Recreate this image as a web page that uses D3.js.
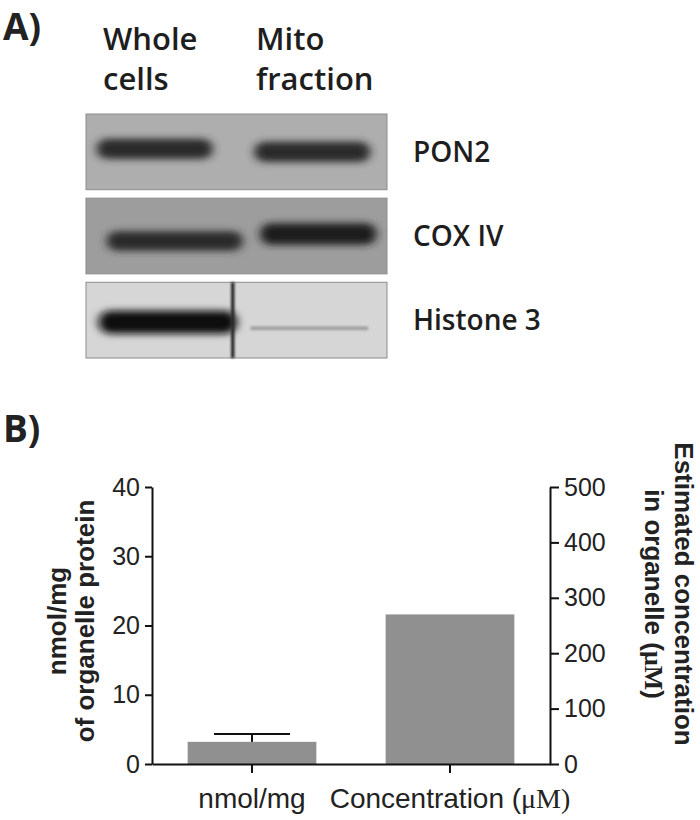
<!DOCTYPE html>
<html>
<head>
<meta charset="utf-8">
<script src="https://cdn.jsdelivr.net/npm/d3@7"></script>
<style>
  html, body { margin: 0; padding: 0; background: #fff; }
  svg { display: block; }
</style>
</head>
<body>
<svg id="fig" width="700" height="820"></svg>
<script>
// ---------------- DATA ----------------
// Panel A: western blot (relative band signal per lane)
const lanes = ["Whole cells", "Mito fraction"];
const laneLabelLines = [["Whole", "cells"], ["Mito", "fraction"]];
const proteins = ["PON2", "COX IV", "Histone 3"];
const wholeSignal = [0.80, 0.72, 1.00];
const mitoSignal  = [0.80, 0.90, 0.15];

// Panel B: bar chart
const categories = ["nmol/mg", "Concentration (\u03bcM)"];
const nmolPerMg = 3.2;          // left axis (nmol/mg of organelle protein)
const nmolPerMgError = 1.15;    // error bar (upper)
const concentrationUM = 270;    // right axis (estimated concentration, µM)
const leftTicks = [0, 10, 20, 30, 40];
const rightTicks = [0, 100, 200, 300, 400, 500];

// ---------------- DRAW ----------------
const svg = d3.select("#fig");
const defs = svg.append("defs");
defs.append("filter").attr("id", "blurBand").attr("x", "-20%").attr("y", "-150%").attr("width", "140%").attr("height", "400%")
  .append("feGaussianBlur").attr("stdDeviation", "5 3.5");
defs.append("filter").attr("id", "blur1").attr("x", "-200%").attr("y", "-200%").attr("width", "500%").attr("height", "500%")
  .append("feGaussianBlur").attr("stdDeviation", "1.2");

const sansA = "'Open Sans', 'DejaVu Sans', sans-serif";
const arial = "'Liberation Sans', Arial, sans-serif";
const serif = "'Liberation Serif', 'Times New Roman', serif";

// Panel labels
svg.append("text").attr("x", 3).attr("y", 40).text("A)")
  .attr("font-family", sansA).attr("font-weight", 700).attr("font-size", 37).attr("fill", "#222");
svg.append("text").attr("x", 3).attr("y", 442).text("B)")
  .attr("font-family", sansA).attr("font-weight", 700).attr("font-size", 37).attr("fill", "#222");

// Blot geometry
const laneX = d3.scaleBand().domain(lanes).range([86, 387]).paddingInner(0.1).paddingOuter(0.03);
const blotY = d3.scaleBand().domain(proteins).range([114, 358]).paddingInner(0.1);
const blotBg = d3.scaleOrdinal().domain(proteins).range(["#aeaeae", "#9d9d9d", "#d6d6d6"]);
const bandOffsetY = { "PON2": [-3, 0], "COX IV": [5, -2], "Histone 3": [2, 8] };
// horizontal trims of each band relative to its lane (left, right)
const bandTrim = { "PON2": [[6, 16], [10, 12]], "COX IV": [[16, -14], [16, 6]], "Histone 3": [[8, -8], [6, 14]] };

// lane header labels
laneLabelLines.forEach((lines, i) => {
  const g = svg.append("text").attr("font-family", sansA).attr("font-weight", 600)
    .attr("font-size", 31).attr("fill", "#1e1e1e");
  lines.forEach((t, j) => {
    g.append("tspan").attr("x", [103, 256][i]).attr("y", 50 + j * 40).text(t);
  });
});

proteins.forEach((p, i) => {
  const y0 = blotY(p), h = blotY.bandwidth();
  const g = svg.append("g");
  g.append("rect").attr("x", 86).attr("y", y0).attr("width", 301).attr("height", h)
    .attr("fill", blotBg(p)).attr("stroke", "#8c8c8c").attr("stroke-width", 1);
  const cy = y0 + h / 2;
  [wholeSignal[i], mitoSignal[i]].forEach((s, li) => {
    const lx = laneX(lanes[li]), bw = laneX.bandwidth();
    const [tl, tr] = bandTrim[p][li];
    const faint = s < 0.3;
    const col = faint ? "#a2a2a2"
      : d3.interpolateRgb(blotBg(p), "#000")(s >= 1 ? 0.95 : 0.4 + 0.45 * s);
    const th = faint ? 4 : 10 + 13 * s;
    g.append("rect")
      .attr("x", lx + tl).attr("y", cy + bandOffsetY[p][li] - th / 2)
      .attr("width", bw - tl - tr).attr("height", th)
      .attr("rx", th / 2)
      .attr("fill", col)
      .attr("filter", faint ? "url(#blur1)" : "url(#blurBand)");
  });
  if (p === "Histone 3") {
    g.append("rect").attr("x", 231).attr("y", y0).attr("width", 3.5).attr("height", h)
      .attr("fill", "#2a2a2a").attr("filter", "url(#blur1)");
  }
  svg.append("text").attr("x", 413).attr("y", cy + 10).text(p)
    .attr("font-family", sansA).attr("font-weight", 600).attr("font-size", 28).attr("fill", "#1e1e1e");
});

// ---------------- Panel B chart ----------------
const x = d3.scaleBand().domain(categories).range([152, 550]).paddingInner(0.35).paddingOuter(0.18);
const yL = d3.scaleLinear().domain([0, 40]).range([764, 487]);
const yR = d3.scaleLinear().domain([0, 500]).range([764, 487]);

const barData = [
  { cat: categories[0], scale: yL, v: nmolPerMg, err: nmolPerMgError },
  { cat: categories[1], scale: yR, v: concentrationUM, err: null }
];

const chart = svg.append("g");
chart.selectAll("rect.bar").data(barData).join("rect").attr("class", "bar")
  .attr("x", d => x(d.cat)).attr("width", x.bandwidth())
  .attr("y", d => d.scale(d.v)).attr("height", d => d.scale(0) - d.scale(d.v))
  .attr("fill", "#909090");

// error bar
barData.filter(d => d.err != null).forEach(d => {
  const cx = x(d.cat) + x.bandwidth() / 2;
  chart.append("line").attr("x1", cx).attr("x2", cx)
    .attr("y1", d.scale(d.v)).attr("y2", d.scale(d.v + d.err))
    .attr("stroke", "#111").attr("stroke-width", 2);
  chart.append("line").attr("x1", cx - 38).attr("x2", cx + 38)
    .attr("y1", d.scale(d.v + d.err)).attr("y2", d.scale(d.v + d.err))
    .attr("stroke", "#111").attr("stroke-width", 2);
});

function styleAxis(g) {
  g.selectAll("path.domain").attr("stroke", "#111").attr("stroke-width", 2);
  g.selectAll(".tick line").attr("stroke", "#111").attr("stroke-width", 2);
  g.selectAll("text").attr("font-family", arial).attr("font-size", 25).attr("fill", "#222");
}

const axL = chart.append("g").attr("transform", "translate(152,0)")
  .call(d3.axisLeft(yL).tickValues(leftTicks).tickSize(7).tickSizeOuter(0).tickPadding(5));
styleAxis(axL);
const axR = chart.append("g").attr("transform", "translate(550,0)")
  .call(d3.axisRight(yR).tickValues(rightTicks).tickSize(9).tickSizeOuter(0).tickPadding(5));
styleAxis(axR);
const axB = chart.append("g").attr("transform", "translate(0,764)")
  .call(d3.axisBottom(x).tickSize(9).tickSizeOuter(0).tickPadding(15));
styleAxis(axB);
axB.selectAll("text").attr("font-size", 28);
// serif micro symbol like the original
axB.selectAll("text").each(function(d) {
  const t = d3.select(this);
  const m = d.match(/^(.*\()(\u03bcM\))$/);
  if (m) {
    t.text(null);
    t.append("tspan").text(m[1]);
    t.append("tspan").attr("font-family", serif).text(m[2]);
  }
});

// axis titles
const tl = chart.append("text").attr("transform", "translate(0,621) rotate(-90)")
  .attr("text-anchor", "middle").attr("font-family", arial).attr("font-weight", 700)
  .attr("font-size", 26).attr("fill", "#222");
tl.append("tspan").attr("x", 0).attr("y", 66).text("nmol/mg");
tl.append("tspan").attr("x", 0).attr("y", 94).text("of organelle protein");

const tr = chart.append("text").attr("transform", "translate(0,594) rotate(90)")
  .attr("text-anchor", "middle").attr("font-family", arial).attr("font-weight", 700)
  .attr("font-size", 26).attr("fill", "#222");
tr.append("tspan").attr("x", 0).attr("y", -675).text("Estimated concentration");
tr.append("tspan").attr("x", 0).attr("y", -645).text("in organelle (");
tr.append("tspan").attr("font-family", serif).text("\u03bcM");
tr.append("tspan").text(")");
</script>
</body>
</html>
